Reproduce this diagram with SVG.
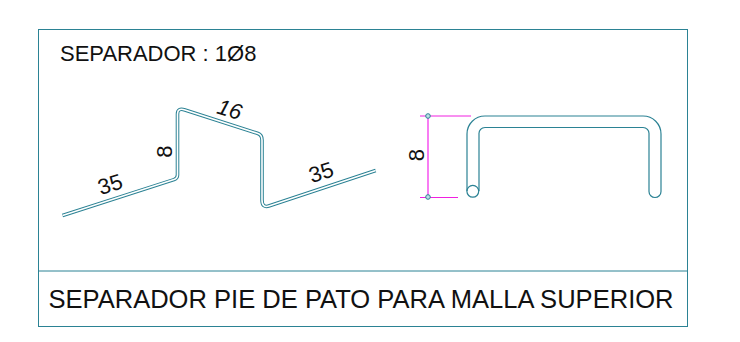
<svg xmlns="http://www.w3.org/2000/svg" width="740" height="342" viewBox="0 0 740 342">
<style>
text{font-family:"Liberation Sans",Arial,sans-serif;fill:#111}
.frame{fill:none;stroke:#2b8294;stroke-width:1}
.rodo{fill:none;stroke:#2b8294;stroke-width:3.6;stroke-linejoin:round}
.rodi{fill:none;stroke:#fff;stroke-width:1.6;stroke-linejoin:round}
.bar{fill:none;stroke:#2b8294;stroke-width:1.2}
.dim{fill:none;stroke:#f020e0;stroke-width:1}
.dimv{fill:none;stroke:#f75cf0;stroke-width:1.6}
.dot{fill:#bfe0e6;stroke:#2b8294;stroke-width:1}
</style>
<rect width="740" height="342" fill="#fff"/>
<g id="frame"><rect class="frame" x="38.500" y="29.500" width="649" height="297"/><line class="frame" x1="38" y1="271" x2="687" y2="271"/></g>
<g id="bent-bar">
<path class="rodo" d="M62.500 215.500L174 179.600Q177.500 178.300 177.500 175L177.500 114Q177.500 107.500 185 110L258 133.500Q262 135 262 140L262 200Q262 208.500 269.500 205.800L375.700 170.500"/>
<path class="rodi" d="M62.500 215.500L174 179.600Q177.500 178.300 177.500 175L177.500 114Q177.500 107.500 185 110L258 133.500Q262 135 262 140L262 200Q262 208.500 269.500 205.800L375.700 170.500"/>
</g>
<g id="stirrup">
<path class="bar" d="M467 191V134A18 18 0 0 1 485 116H643A18 18 0 0 1 661 134V191.500A6 6 0 0 1 649 191.500V134A6 6 0 0 0 643 127.500H485A6 6 0 0 0 479 134V191"/>
<circle class="bar" cx="472.800" cy="191.300" r="5.900" fill="#fff"/>
</g>
<g id="dimension">
<line class="dimv" x1="428" y1="116" x2="428" y2="197"/>
<line class="dim" x1="420" y1="116" x2="471" y2="116"/>
<line class="dim" x1="420" y1="197.500" x2="458" y2="197.500"/>
<circle class="dot" cx="428" cy="116" r="2.300"/><circle class="dot" cx="428" cy="197" r="2.300"/>
</g>
<g id="labels">
<text x="60" y="61" font-size="22">SEPARADOR : 1Ø8</text>
<text font-size="22" text-anchor="middle" transform="translate(112.500 191.500) rotate(-18)">35</text>
<text font-size="22" text-anchor="middle" transform="translate(323.500 179.500) rotate(-18)">35</text>
<text font-size="22" font-style="italic" text-anchor="middle" transform="translate(227.500 116.500) rotate(17)">16</text>
<text font-size="22" text-anchor="middle" transform="translate(171.500 151.500) rotate(-90)">8</text>
<text font-size="22" text-anchor="middle" transform="translate(423.500 155) rotate(-90)">8</text>
<text x="361" y="308" font-size="25.560" text-anchor="middle">SEPARADOR PIE DE PATO PARA MALLA SUPERIOR</text>
</g>
</svg>
